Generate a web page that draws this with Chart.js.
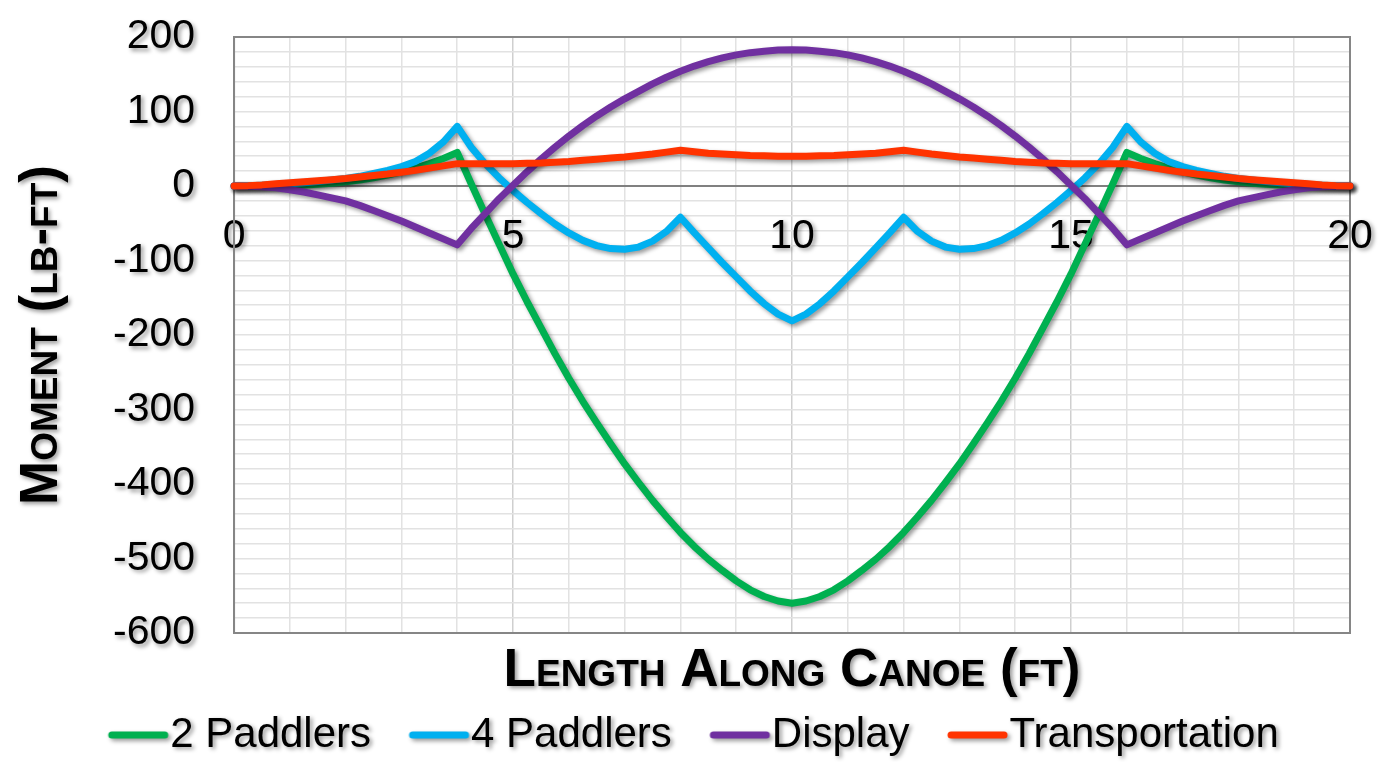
<!DOCTYPE html>
<html>
<head>
<meta charset="utf-8">
<title>Moment along canoe</title>
<script src="https://cdn.jsdelivr.net/npm/chart.js@4.4.1/dist/chart.umd.min.js"></script>
<style>
    html, body { margin: 0; padding: 0; background: #ffffff; }
    canvas { display: block; }
</style>
</head>
<body>
<canvas id="graficoMomento" width="1381" height="762"></canvas>
<script>
// positions along the canoe (ft)
const lengthFt = [
    0, 0.25, 0.5, 0.75, 1, 1.25, 1.5, 1.75, 2, 2.25, 2.5, 2.75, 3, 3.25, 3.5, 3.75,
    4, 4.25, 4.5, 4.75, 5, 5.25, 5.5, 5.75, 6, 6.25, 6.5, 6.75, 7, 7.25, 7.5, 7.75,
    8, 8.25, 8.5, 8.75, 9, 9.25, 9.5, 9.75, 10, 10.25, 10.5, 10.75, 11, 11.25, 11.5, 11.75,
    12, 12.25, 12.5, 12.75, 13, 13.25, 13.5, 13.75, 14, 14.25, 14.5, 14.75, 15, 15.25, 15.5, 15.75,
    16, 16.25, 16.5, 16.75, 17, 17.25, 17.5, 17.75, 18, 18.25, 18.5, 18.75, 19, 19.25, 19.5, 19.75, 20];

// moment (lb-ft) for each load case
const twoPaddlers = [
    0, 0, 0.1, 0.3, 0.7, 1.4, 2.4, 3.8, 5.6, 8, 11, 14.6, 19, 24, 30, 37,
    45, 3, -38, -78, -118, -155, -190, -225, -258, -289, -318, -346, -373, -398, -422, -444,
    -465, -484, -501, -516, -530, -542, -551, -557, -560, -557, -551, -542, -530, -516, -501, -484,
    -465, -444, -422, -398, -373, -346, -318, -289, -258, -225, -190, -155, -118, -78, -38, 3,
    45, 37, 30, 24, 19, 14.6, 11, 8, 5.6, 3.8, 2.4, 1.4, 0.7, 0.3, 0.1, 0, 0];
const fourPaddlers = [
    0, 0.3, 1, 2, 3, 4.3, 6, 8, 10, 13, 17, 21, 26, 33, 44, 59,
    80, 52, 30, 11, -6, -22, -37, -51, -63, -73, -80, -84, -85, -82, -74, -61,
    -42, -63, -83, -103, -122, -141, -158, -172, -181, -172, -158, -141, -122, -103, -83, -63,
    -42, -61, -74, -82, -85, -84, -80, -73, -63, -51, -37, -22, -6, 11, 30, 52,
    80, 59, 44, 33, 26, 21, 17, 13, 10, 8, 6, 4.3, 3, 2, 1, 0.3, 0];
const display = [
    0, -0.3, -1, -2.5, -5, -8, -12, -16, -20, -26, -33, -40, -47, -55, -63, -71,
    -79, -57, -37, -17, 1, 19, 36, 52, 67, 81, 94, 106, 117, 127, 137, 146,
    154, 161, 167, 172, 176, 179, 181, 182.5, 183, 182.5, 181, 179, 176, 172, 167, 161,
    154, 146, 137, 127, 117, 106, 94, 81, 67, 52, 36, 19, 1, -17, -37, -57,
    -79, -71, -63, -55, -47, -40, -33, -26, -20, -16, -12, -8, -5, -2.5, -1, -0.3, 0];
const transportation = [
    0, 0.5, 1.5, 3, 4.5, 5.7, 7, 8.5, 10, 12, 14, 16, 18.5, 21, 24, 27,
    30, 30, 30, 30, 30, 30.5, 31, 32, 33, 34.5, 36, 37.5, 39, 41, 43, 45.5,
    48, 46, 44, 43, 42, 41, 40.5, 40, 40, 40, 40.5, 41, 42, 43, 44, 46,
    48, 45.5, 43, 41, 39, 37.5, 36, 34.5, 33, 32, 31, 30.5, 30, 30, 30, 30,
    30, 27, 24, 21, 18.5, 16, 14, 12, 10, 8.5, 7, 5.7, 4.5, 3, 1.5, 0.5, 0];

const seriesNames = ['2 Paddlers', '4 Paddlers', 'Display', 'Transportation'];
const seriesColors = ['#00b050', '#00b0f0', '#7030a0', '#ff3300'];
const xTickLabels = [0, 5, 10, 15, 20];
const yTickLabels = [200, 100, 0, -100, -200, -300, -400, -500, -600];

const fonte = "'Liberation Sans', Arial, sans-serif";
Chart.defaults.font.family = fonte;
Chart.defaults.color = '#000000';

// short line used as legend marker
function legendLine(color) {
    const c = document.createElement('canvas');
    c.width = 100;
    c.height = 12;
    const g = c.getContext('2d');
    g.strokeStyle = color;
    g.lineWidth = 7;
    g.lineCap = 'round';
    g.beginPath();
    g.moveTo(33, 6);
    g.lineTo(86, 6);
    g.stroke();
    return c;
}

function pontos(valores) {
    return lengthFt.map((x, i) => ({ x: x, y: valores[i] }));
}

function sombra(ctx) {
    ctx.shadowColor = 'rgba(0,0,0,0.4)';
    ctx.shadowBlur = 4;
    ctx.shadowOffsetX = 2.5;
    ctx.shadowOffsetY = 2.5;
}

function comSombra(obj, nome) {
    if (!obj || !obj[nome] || obj[nome]._sombra) return;
    const original = obj[nome];
    obj[nome] = function () {
        const ctx = this.ctx;
        ctx.save();
        sombra(ctx);
        original.apply(this, arguments);
        ctx.restore();
    };
    obj[nome]._sombra = true;
}

// Excel-like shadow on lines and texts, plus the plot frame
const sombraPlugin = {
    id: 'sombraPlugin',
    beforeDraw(chart) {
        comSombra(chart.legend, 'draw');
        comSombra(chart.titleBlock, 'draw');
        Object.values(chart.scales).forEach(s => {
            comSombra(s, 'drawLabels');
            comSombra(s, 'drawTitle');
        });
    },
    beforeDatasetsDraw(chart) {
        const { ctx, chartArea: a } = chart;
        ctx.save();
        ctx.strokeStyle = '#868686';
        ctx.lineWidth = 2;
        ctx.strokeRect(a.left, a.top, a.right - a.left, a.bottom - a.top);
        ctx.restore();
        ctx.save();
        sombra(ctx);
    },
    afterDatasetsDraw(chart) {
        chart.ctx.restore();
    }
};

const valores = [twoPaddlers, fourPaddlers, display, transportation];

new Chart(document.getElementById('graficoMomento'), {
    type: 'line',
    data: {
        datasets: valores.map((v, i) => ({
            label: seriesNames[i],
            data: pontos(v),
            borderColor: seriesColors[i],
            backgroundColor: seriesColors[i],
            borderWidth: 7,
            pointRadius: 0,
            pointHoverRadius: 0,
            pointStyle: legendLine(seriesColors[i]),
            tension: 0,
            borderJoinStyle: 'round',
            borderCapStyle: 'round',
            clip: false,
            order: 3 - i
        }))
    },
    options: {
        responsive: false,
        animation: false,
        layout: { padding: { left: 37, right: 31, top: 37, bottom: 0 } },
        plugins: {
            tooltip: { enabled: false },
            legend: {
                position: 'bottom',
                maxHeight: 86,
                labels: {
                    usePointStyle: true,
                    pointStyleWidth: 41,
                    padding: 38,
                    color: '#000000',
                    font: { size: 42 },
                    sort: (a, b) => a.datasetIndex - b.datasetIndex
                }
            },
            title: {
                display: true,
                position: 'bottom',
                fullSize: false,
                weight: 500,
                text: 'Length Along Canoe (ft)',
                color: '#000000',
                font: { size: 53, weight: 'small-caps bold', lineHeight: '10px' },
                padding: { top: 33, bottom: 0 }
            }
        },
        scales: {
            x: {
                type: 'linear',
                position: { y: 0 },
                min: 0,
                max: 20,
                ticks: {
                    stepSize: 1,
                    padding: 3,
                    autoSkip: false,
                    maxRotation: 0,
                    font: { size: 41 },
                    color: '#000000',
                    callback: v => xTickLabels.includes(v) ? String(v) : ''
                },
                grid: {
                    drawTicks: true,
                    tickLength: 23,
                    tickColor: 'transparent',
                    color: c => xTickLabels.includes(c.tick.value) ? '#cfcfcf' : '#e2e2e2',
                    lineWidth: 1.5
                },
                border: { color: '#808080', width: 2 }
            },
            y: {
                min: -600,
                max: 200,
                ticks: {
                    stepSize: 20,
                    padding: 3,
                    autoSkip: false,
                    font: { size: 41 },
                    color: '#000000',
                    callback: v => yTickLabels.includes(Math.round(v)) ? String(Math.round(v)) : ''
                },
                grid: {
                    drawTicks: true,
                    tickLength: 36,
                    tickColor: 'transparent',
                    color: '#e2e2e2',
                    lineWidth: 1.5
                },
                border: { color: '#868686', width: 2 },
                title: {
                    display: true,
                    text: 'Moment (lb-ft)',
                    color: '#000000',
                    font: { size: 53, weight: 'small-caps bold', lineHeight: 1 },
                    padding: { top: -21.5, bottom: 41.5 }
                }
            }
        }
    },
    plugins: [sombraPlugin]
});
</script>
</body>
</html>
